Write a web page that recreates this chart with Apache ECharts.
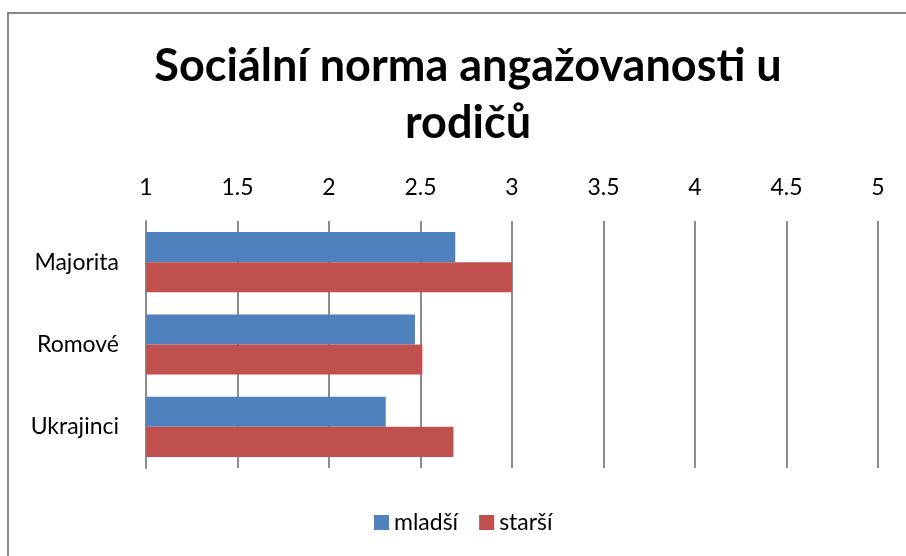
<!DOCTYPE html>
<html>
<head>
<meta charset="utf-8">
<script src="https://cdn.jsdelivr.net/npm/echarts@6/dist/echarts.min.js"></script>
<style>
  html, body { margin: 0; padding: 0; background: #fff; }
  #chart { width: 906px; height: 556px; }
</style>
</head>
<body>
<div id="chart"></div>
<script>
const categories = ['Majorita', 'Romové', 'Ukrajinci'];
const mladsi = [2.69, 2.47, 2.31];
const starsi = [3.0, 2.51, 2.68];
const seriesNames = ['mladší', 'starší'];
const valueTicks = [1, 1.5, 2, 2.5, 3, 3.5, 4, 4.5, 5];

const chart = echarts.init(document.getElementById('chart'));
const font = 'Lato, "Open Sans", sans-serif';

chart.setOption({
  animation: false,
  title: {
    text: 'Sociální norma angažovanosti u\nrodičů',
    left: 463,
    top: 33,
    textAlign: 'center',
    textStyle: { fontFamily: font, fontSize: 45, fontWeight: 'bold', color: '#000', lineHeight: 57 }
  },
  graphic: [{
    type: 'rect',
    shape: { x: 8, y: 13, width: 960, height: 600 },
    style: { fill: 'none', stroke: '#888', lineWidth: 2 },
    silent: true
  }],
  legend: {
    data: seriesNames,
    bottom: 17,
    left: 369,
    itemWidth: 15,
    itemHeight: 15,
    itemGap: 21,
    icon: 'rect',
    textStyle: { fontFamily: font, fontSize: 23, color: '#000' }
  },
  grid: { left: 146, right: 28, top: 221, bottom: 88 },
  xAxis: {
    type: 'value',
    position: 'top',
    min: valueTicks[0],
    max: valueTicks[valueTicks.length - 1],
    interval: 0.5,
    axisLine: { show: false },
    axisTick: { show: false },
    axisLabel: { fontFamily: font, fontSize: 23, color: '#000', margin: 22 },
    splitLine: { show: true, lineStyle: { color: '#8c8c8c', width: 2 } }
  },
  yAxis: {
    type: 'category',
    data: categories,
    inverse: true,
    axisLine: { show: true, lineStyle: { color: '#8c8c8c', width: 2 } },
    axisTick: { show: false },
    axisLabel: { fontFamily: font, fontSize: 23, color: '#000', margin: 27 }
  },
  series: [
    {
      name: seriesNames[0],
      type: 'bar',
      data: mladsi,
      barGap: '0%',
      barCategoryGap: '27%',
      itemStyle: { color: '#4f81bd' }
    },
    {
      name: seriesNames[1],
      type: 'bar',
      data: starsi,
      barGap: '0%',
      barCategoryGap: '27%',
      itemStyle: { color: '#c0504d' }
    }
  ]
});
</script>
</body>
</html>
